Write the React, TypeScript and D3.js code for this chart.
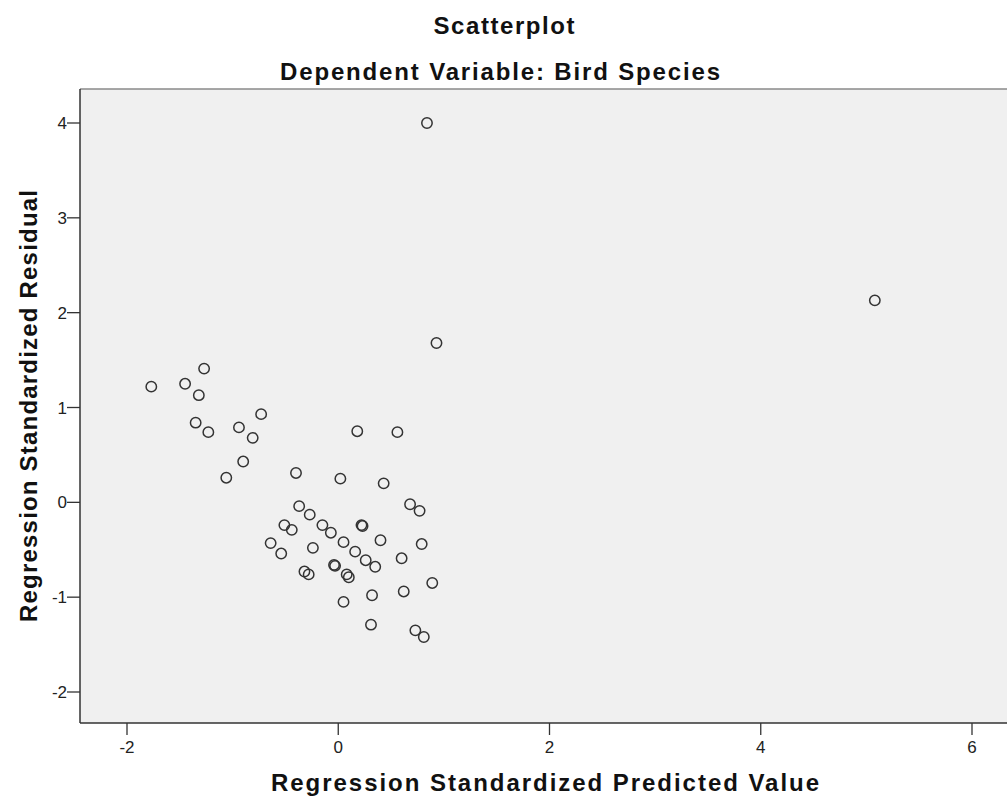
import React from "react";
import * as d3 from "d3";

const predicted: number[] = [
  0.84, 5.08, 0.93, -1.77, -1.45, -1.27, -1.32, -1.35, -1.23, -0.73, -0.94, -0.81,
  -0.9, -1.06, -0.4, 0.02, 0.18, 0.56, 0.43, 0.68, 0.77,
  -0.37, -0.27, -0.51, -0.44, -0.15, -0.07, 0.22, 0.23, 0.4, 0.05, 0.79, -0.64,
  -0.54, -0.24, 0.16, 0.26, 0.35, 0.6, -0.04, -0.03, 0.08, 0.1, -0.32, -0.28,
  0.89, 0.62, 0.32, 0.05, 0.31, 0.73, 0.81,
];
const residual: number[] = [
  4.0, 2.13, 1.68, 1.22, 1.25, 1.41, 1.13, 0.84, 0.74, 0.93, 0.79, 0.68,
  0.43, 0.26, 0.31, 0.25, 0.75, 0.74, 0.2, -0.02, -0.09,
  -0.04, -0.13, -0.24, -0.29, -0.24, -0.32, -0.24, -0.25, -0.4, -0.42, -0.44, -0.43,
  -0.54, -0.48, -0.52, -0.61, -0.68, -0.59, -0.66, -0.67, -0.76, -0.79, -0.73, -0.76,
  -0.85, -0.94, -0.98, -1.05, -1.29, -1.35, -1.42,
];
const xTicks: number[] = [-2, 0, 2, 4, 6];
const yTicks: number[] = [-2, -1, 0, 1, 2, 3, 4];

const title = "Scatterplot";
const subtitle = "Dependent Variable: Bird Species";
const xTitle = "Regression Standardized Predicted Value";
const yTitle = "Regression Standardized Residual";

export default function App() {
  const W = 1007;
  const H = 799;
  const left = 80;
  const top = 89;
  const bottom = 723;
  const right = 1007;
  const x = d3.scaleLinear().domain([-2, 6]).range([127, 972]);
  const y = d3.scaleLinear().domain([-2, 4]).range([692, 123]);
  const font = "'Liberation Sans', Arial, sans-serif";
  const pts = predicted.map((p, i) => [p, residual[i]]);
  return (
    <svg
      width={W}
      height={H}
      style={{ position: "absolute", left: 0, top: 0, background: "#fff" }}
      fontFamily={font}
    >
      <rect x={left} y={top} width={right - left} height={bottom - top} fill="#f0f0f0" />
      <line x1={left} x2={right} y1={top} y2={top} stroke="#8a8a8a" strokeWidth={1.5} />
      <line x1={left} x2={left} y1={top} y2={bottom} stroke="#333" strokeWidth={1.5} />
      <line x1={left} x2={right} y1={bottom} y2={bottom} stroke="#333" strokeWidth={1.5} />
      {yTicks.map((t) => (
        <g key={"y" + t}>
          <line x1={left - 13} x2={left} y1={y(t)} y2={y(t)} stroke="#333" strokeWidth={1.3} />
          <text x={left - 13} y={y(t)} dy="0.36em" textAnchor="end" fontSize={17} fill="#222">
            {t}
          </text>
        </g>
      ))}
      {xTicks.map((t) => (
        <g key={"x" + t}>
          <line x1={x(t)} x2={x(t)} y1={bottom} y2={bottom + 12} stroke="#333" strokeWidth={1.3} />
          <text x={x(t)} y={bottom + 30} textAnchor="middle" fontSize={17} fill="#222">
            {t}
          </text>
        </g>
      ))}
      {pts.map(([p, r], i) => (
        <circle key={i} cx={x(p)} cy={y(r)} r={5.2} fill="none" stroke="#333" strokeWidth={1.5} />
      ))}
      <text x={504} y={34} textAnchor="middle" fontSize={24} fontWeight="bold" fill="#111"
        textLength={141} lengthAdjust="spacing">
        {title}
      </text>
      <text x={500} y={80} textAnchor="middle" fontSize={24} fontWeight="bold" fill="#111"
        textLength={440} lengthAdjust="spacing">
        {subtitle}
      </text>
      <text x={545} y={791} textAnchor="middle" fontSize={24} fontWeight="bold" fill="#111"
        textLength={548} lengthAdjust="spacing">
        {xTitle}
      </text>
      <text
        transform={`translate(37,${(top + bottom) / 2}) rotate(-90)`}
        textAnchor="middle"
        fontSize={24}
        fontWeight="bold"
        fill="#111"
        textLength={432}
        lengthAdjust="spacing"
      >
        {yTitle}
      </text>
    </svg>
  );
}
